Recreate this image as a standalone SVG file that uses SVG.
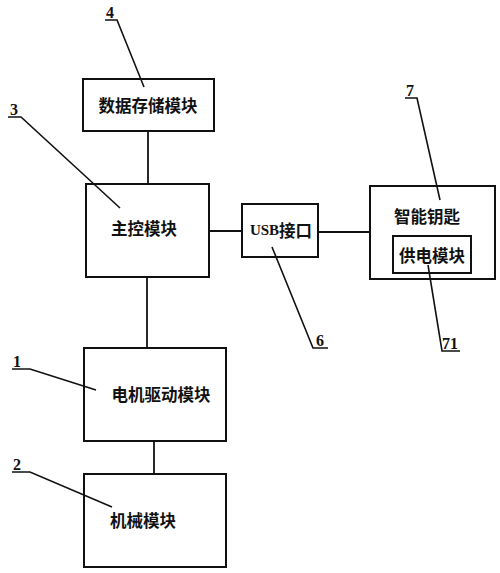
<svg xmlns="http://www.w3.org/2000/svg" width="500" height="573" viewBox="0 0 500 573">
<style>
.box{fill:#fff;stroke:#111;stroke-width:2}
.ln{fill:none;stroke:#111;stroke-width:1.8}
.ld{fill:none;stroke:#111;stroke-width:1.6}
.t{font-family:"Noto Sans CJK SC","Noto Sans CJK JP",sans-serif;font-size:16.5px;font-weight:bold;fill:#111;text-anchor:middle;dominant-baseline:central}
.n{font-family:"Liberation Serif",serif;font-size:16px;font-weight:bold;fill:#111;text-anchor:middle}
</style>
<rect width="500" height="573" fill="#fff"/>
<g id="connectors">
<line class="ln" x1="148" y1="131" x2="148" y2="184"/>
<line class="ln" x1="147" y1="277" x2="147" y2="348"/>
<line class="ln" x1="154" y1="441" x2="154" y2="474"/>
<line class="ln" x1="209" y1="231" x2="242" y2="231"/>
<line class="ln" x1="318" y1="232" x2="370" y2="232"/>
</g>
<g id="node4">
<rect class="box" x="83" y="79" width="131" height="52"/>
<text class="t" x="148" y="105">数据存储模块</text>
</g>
<g id="node3">
<rect class="box" x="86" y="184" width="123" height="93"/>
<text class="t" x="144" y="228">主控模块</text>
</g>
<g id="node6">
<rect class="box" x="242" y="204" width="76" height="53"/>
<text class="t" x="281" y="230"><tspan font-family="Liberation Serif, serif" font-weight="bold" font-size="15">USB</tspan>接口</text>
</g>
<g id="node7">
<rect class="box" x="370" y="186" width="125" height="93"/>
<text class="t" x="427" y="216">智能钥匙</text>
</g>
<g id="node71">
<rect class="box" x="393" y="236" width="78" height="37"/>
<text class="t" x="432" y="255">供电模块</text>
</g>
<g id="node1">
<rect class="box" x="84" y="348" width="142" height="93"/>
<text class="t" x="161" y="394">电机驱动模块</text>
</g>
<g id="node2">
<rect class="box" x="84" y="474" width="142" height="93"/>
<text class="t" x="143" y="520">机械模块</text>
</g>
<g id="labels">
<polyline class="ld" points="105,20 117,20 144,87"/>
<text class="n" x="110" y="18">4</text>
<polyline class="ld" points="8,117 21,117 120,208"/>
<text class="n" x="14" y="115">3</text>
<polyline class="ld" points="405,98 417,98 440,200"/>
<text class="n" x="410" y="96">7</text>
<polyline class="ld" points="272,247 313,348 328,348"/>
<text class="n" x="320" y="346">6</text>
<polyline class="ld" points="428,265 442,351 460,351"/>
<text class="n" x="450" y="349">71</text>
<polyline class="ld" points="12,369 30,369 96,390"/>
<text class="n" x="17" y="367">1</text>
<polyline class="ld" points="12,472 30,472 112,507"/>
<text class="n" x="17" y="470">2</text>
</g>
</svg>
